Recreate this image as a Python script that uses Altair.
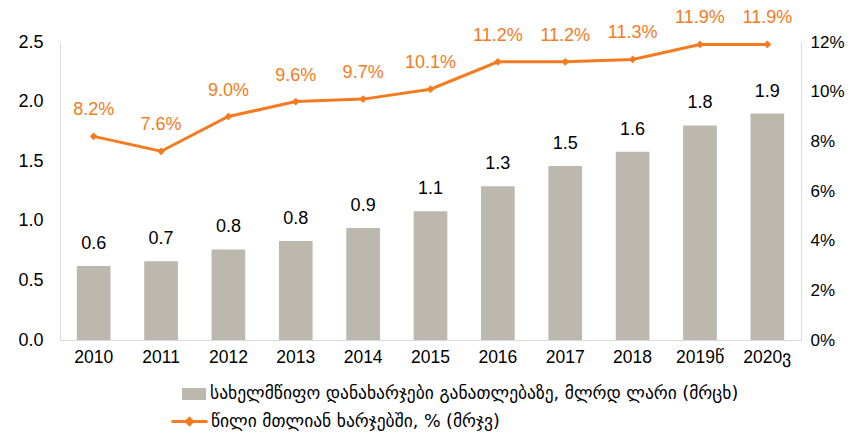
import altair as alt
import pandas as pd

years = ["2010", "2011", "2012", "2013", "2014", "2015", "2016", "2017", "2018", "2019წ", "2020ვ"]
spending = [0.62, 0.66, 0.76, 0.83, 0.94, 1.08, 1.29, 1.46, 1.58, 1.80, 1.90]
share = [8.2, 7.6, 9.0, 9.6, 9.7, 10.1, 11.2, 11.2, 11.3, 11.9, 11.9]
bar_name = "სახელმწიფო დანახარჯები განათლებაზე, მლრდ ლარი (მრცხ)"
line_name = "წილი მთლიან ხარჯებში, % (მრჯვ)"

GRAY = "#BCB8AE"
ORANGE = "#F47B20"
AXIS_GRAY = "#D9D9D9"
FONT = "Liberation Sans"
FS = 18

df = pd.DataFrame({
    "year": years,
    "spending": spending,
    "share": share,
    "bar_series": [bar_name] * len(years),
    "line_series": [line_name] * len(years),
})

base = alt.Chart(df)

x = alt.X(
    "year:N",
    sort=years,
    scale=alt.Scale(paddingInner=0.5, paddingOuter=0.25),
    axis=alt.Axis(title=None, labelAngle=0, ticks=False, domainColor=AXIS_GRAY,
                  labelPadding=8, labelFontSize=17.5, labelFont=FONT, labelColor="black"),
)

y_left = alt.Y(
    "spending:Q",
    scale=alt.Scale(domain=[0, 2.5]),
    axis=alt.Axis(title=None, orient="left", values=[0, 0.5, 1.0, 1.5, 2.0, 2.5], format=".1f",
                  ticks=False, grid=False, domainColor=AXIS_GRAY, labelPadding=17,
                  labelFontSize=FS, labelFont=FONT, labelColor="black"),
)

y_right = alt.Y(
    "share:Q",
    scale=alt.Scale(domain=[0, 12]),
    axis=alt.Axis(title=None, orient="right", values=[0, 2, 4, 6, 8, 10, 12],
                  labelExpr="datum.value + '%'",
                  ticks=False, grid=False, domainColor=AXIS_GRAY, labelPadding=9,
                  labelFontSize=17, labelFont=FONT, labelColor="black"),
)

bars = base.mark_bar(color=GRAY).encode(
    x=x,
    y=y_left,
    fill=alt.Fill(
        "bar_series:N",
        scale=alt.Scale(domain=[bar_name], range=[GRAY]),
        legend=alt.Legend(title=None, orient="none", legendX=122, legendY=340,
                          symbolType="M-1,-0.5H1V0.5H-1Z", symbolSize=576,
                          symbolStrokeWidth=0, labelFont="DejaVu Sans", labelFontSize=17.5,
                          labelColor="black", labelLimit=1000, labelOffset=4, padding=0),
    ),
)

bar_text = base.mark_text(dy=-22, fontSize=FS, font=FONT, color="black").encode(
    x=x,
    y=y_left,
    text=alt.Text("spending:Q", format=".1f"),
)

line = base.mark_line(color=ORANGE, strokeWidth=3).encode(
    x=x,
    y=y_right,
    stroke=alt.Stroke(
        "line_series:N",
        scale=alt.Scale(domain=[line_name], range=[ORANGE]),
        legend=alt.Legend(title=None, orient="none", legendX=110, legendY=360,
                          symbolType="M-1,0H1M0,-0.17L0.17,0L0,0.17L-0.17,0Z", symbolSize=1296,
                          symbolStrokeWidth=3, symbolFillColor=ORANGE,
                          labelFont="DejaVu Sans", labelFontSize=17.5,
                          labelColor="black", labelLimit=1000, labelOffset=2, padding=0),
    ),
)

points = base.mark_point(shape="diamond", filled=True, size=60, color=ORANGE, opacity=1).encode(
    x=x,
    y=y_right,
)

line_text = base.transform_calculate(
    lbl="format(datum.share, '.1f') + '%'"
).mark_text(dy=-26, fontSize=FS, font=FONT, color=ORANGE).encode(
    x=x,
    y=y_right,
    text="lbl:N",
)

chart = alt.layer(
    alt.layer(bars, bar_text),
    alt.layer(line, points, line_text),
).resolve_scale(y="independent", fill="independent", stroke="independent").properties(
    width=741,
    height=298,
    autosize=alt.AutoSizeParams(type="none"),
    padding={"left": 52, "top": 34, "right": 44, "bottom": 95},
).configure_view(stroke=None)

chart.save("out.html", embed_options={"renderer": "svg", "actions": False})
